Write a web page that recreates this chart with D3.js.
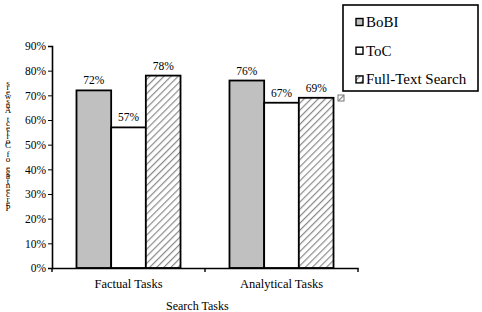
<!DOCTYPE html>
<html>
<head>
<meta charset="utf-8">
<script src="https://cdn.jsdelivr.net/npm/d3@7"></script>
<style>
body { margin: 0; background: #fff; }
svg text { font-family: "Liberation Serif", "Times New Roman", Times, serif; fill: #000; }
</style>
</head>
<body>
<div id="chart"></div>
<script>
// datos
const categories = ['Factual Tasks', 'Analytical Tasks'];
const seriesNames = ['BoBI', 'ToC', 'Full-Text Search'];
const bobi = [72, 76];
const toc = [57, 67];
const fullText = [78, 69];
const yTicks = [0, 10, 20, 30, 40, 50, 60, 70, 80, 90];
const yLabel = 'Percentage of Correct Answers';

const seriesValues = [bobi, toc, fullText];
const fills = ['#c0c0c0', '#ffffff', 'url(#hatch)'];
const serif = '"Liberation Serif", "Times New Roman", Times, serif';

const margin = { top: 46, right: 124, bottom: 44, left: 52 };
const width = 482 - margin.left - margin.right;
const height = 312 - margin.top - margin.bottom;

const root = d3.select('#chart').append('svg')
    .attr('width', 482)
    .attr('height', 312);

// patrón rayado
const pat = root.append('defs').append('pattern')
    .attr('id', 'hatch')
    .attr('patternUnits', 'userSpaceOnUse')
    .attr('width', 5)
    .attr('height', 5)
    .attr('patternTransform', 'rotate(45)');
pat.append('rect').attr('width', 5).attr('height', 5).attr('fill', '#fff');
pat.append('line')
    .attr('x1', 0).attr('y1', 0).attr('x2', 0).attr('y2', 5)
    .attr('stroke', '#8a8a8a').attr('stroke-width', 2.4);

const svg = root.append('g')
    .attr('transform', `translate(${margin.left},${margin.top})`);

// escalas
const x0 = d3.scaleBand()
    .domain(categories)
    .range([0, width])
    .paddingInner(0.32)
    .paddingOuter(0.16);

const x1 = d3.scaleBand()
    .domain(seriesNames)
    .range([0, x0.bandwidth()]);

const y = d3.scaleLinear()
    .domain([0, 90])
    .range([height, 0]);

// barras
const rows = [];
categories.forEach((c, i) => {
    seriesNames.forEach((s, j) => {
        rows.push({ cat: c, series: s, value: seriesValues[j][i], idx: j });
    });
});

svg.selectAll('.bar')
    .data(rows)
    .enter().append('rect')
    .attr('class', 'bar')
    .attr('x', d => x0(d.cat) + x1(d.series))
    .attr('width', x1.bandwidth())
    .attr('y', d => y(d.value))
    .attr('height', d => height - y(d.value))
    .attr('fill', d => fills[d.idx])
    .attr('stroke', '#000')
    .attr('stroke-width', 1.8);

svg.selectAll('.val')
    .data(rows)
    .enter().append('text')
    .attr('x', d => x0(d.cat) + x1(d.series) + x1.bandwidth() / 2)
    .attr('y', d => y(d.value) - 6)
    .attr('text-anchor', 'middle')
    .style('font-size', '11.5px')
    .text(d => d.value + '%');

// eje Y
const yAxis = svg.append('g')
    .call(d3.axisLeft(y).tickValues(yTicks).tickSize(4).tickPadding(2).tickFormat(d => d + '%'));
yAxis.attr('font-family', serif);
yAxis.select('.domain').attr('stroke-width', 1.6);
yAxis.selectAll('.tick text').style('font-size', '11.5px');

// eje X
const xAxis = svg.append('g')
    .attr('transform', `translate(0,${height})`)
    .call(d3.axisBottom(x0).tickSize(0).tickPadding(11));
xAxis.attr('font-family', serif);
xAxis.select('.domain').attr('stroke-width', 1.6);
xAxis.selectAll('.tick text').style('font-size', '12.5px');
// marcas entre categorías
const sep = [0, width / 2, width];
xAxis.selectAll('.sep')
    .data(sep)
    .enter().append('line')
    .attr('x1', d => d).attr('x2', d => d)
    .attr('y1', 0).attr('y2', 4)
    .attr('stroke', '#000').attr('stroke-width', 1.4);

svg.append('text')
    .attr('x', width * 0.475)
    .attr('y', height + 42)
    .attr('text-anchor', 'middle')
    .style('font-size', '12px')
    .text('Search Tasks');

// etiqueta Y (caracteres apilados, invertidos)
const chars = yLabel.split('').reverse();
const ylab = root.append('text')
    .attr('text-anchor', 'middle')
    .style('font-size', '9px');
ylab.selectAll('tspan')
    .data(chars)
    .enter().append('tspan')
    .attr('x', 8)
    .attr('y', (d, i) => 86 + i * 4.45)
    .text(d => d);

// leyenda
const legend = root.append('g');
legend.append('rect')
    .attr('x', 343).attr('y', 5)
    .attr('width', 135).attr('height', 86)
    .attr('fill', '#fff')
    .attr('stroke', '#000')
    .attr('stroke-width', 1.6);

const items = legend.selectAll('.item')
    .data(seriesNames)
    .enter().append('g')
    .attr('transform', (d, i) => `translate(356,${22 + i * 28.7})`);
items.append('rect')
    .attr('x', 0).attr('y', -3.5)
    .attr('width', 7).attr('height', 7)
    .attr('fill', (d, i) => fills[i])
    .attr('stroke', '#000')
    .attr('stroke-width', 1.4);
items.append('text')
    .attr('x', 10)
    .attr('y', 5)
    .style('font-size', '15px')
    .text(d => d);

// pequeño cuadro rayado bajo la leyenda
legend.append('rect')
    .attr('x', 338).attr('y', 95)
    .attr('width', 6).attr('height', 6)
    .attr('fill', fills[2])
    .attr('stroke', '#777')
    .attr('stroke-width', 1);
</script>
</body>
</html>
